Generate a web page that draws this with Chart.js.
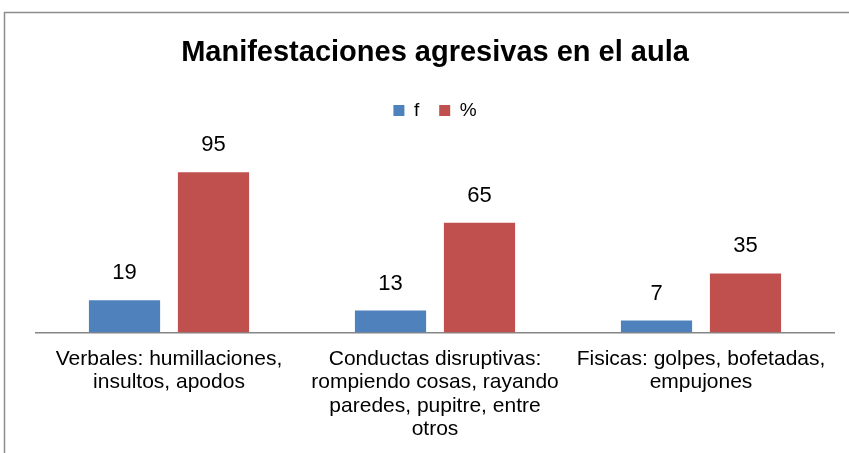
<!DOCTYPE html>
<html lang="es">
<head>
    <meta charset="UTF-8">
    <title>Manifestaciones agresivas en el aula</title>
    <script src="https://cdn.jsdelivr.net/npm/chart.js"></script>
    <style>
        html, body { margin: 0; padding: 0; background: #fff; }
        #wrap { width: 849px; height: 453px; }
    </style>
</head>
<body>
    <div id="wrap">
        <canvas id="myChart" width="849" height="453"></canvas>
    </div>

    <script>
        const categorias = [
            ['Verbales: humillaciones,', 'insultos, apodos'],
            ['Conductas disruptivas:', 'rompiendo cosas, rayando', 'paredes, pupitre, entre', 'otros'],
            ['Fisicas: golpes, bofetadas,', 'empujones']
        ];
        const frecuencia = [19, 13, 7];
        const porcentaje = [95, 65, 35];

        const FUENTE = '"Liberation Sans", Arial, sans-serif';

        // marco gris alrededor del grafico
        const marco = {
            id: 'marco',
            beforeDraw: (chart) => {
                const {ctx} = chart;
                ctx.save();
                ctx.fillStyle = '#fff';
                ctx.fillRect(0, 0, chart.width, chart.height);
                ctx.strokeStyle = '#8c8c8c';
                ctx.lineWidth = 1.5;
                ctx.strokeRect(4.5, 12.5, chart.width + 20, chart.height + 20);
                ctx.restore();
            }
        };

        // numeros encima de cada barra
        const etiquetas = {
            id: 'etiquetas',
            afterDatasetsDraw: (chart) => {
                const {ctx} = chart;
                ctx.save();
                ctx.font = '22px ' + FUENTE;
                ctx.fillStyle = '#000';
                ctx.textAlign = 'center';
                ctx.textBaseline = 'middle';
                chart.data.datasets.forEach((ds, i) => {
                    chart.getDatasetMeta(i).data.forEach((bar, j) => {
                        ctx.fillText(String(ds.data[j]), bar.x, bar.y - 27);
                    });
                });
                ctx.restore();
            }
        };

        new Chart(document.getElementById('myChart'), {
            type: 'bar',
            data: {
                labels: categorias,
                datasets: [
                    { label: 'f', data: frecuencia, backgroundColor: '#4f81bd' },
                    { label: '%', data: porcentaje, backgroundColor: '#c0504d' }
                ]
            },
            options: {
                responsive: false,
                animation: false,
                devicePixelRatio: 1,
                layout: { padding: { top: 22, left: 36, right: 15, bottom: 5 } },
                datasets: { bar: { categoryPercentage: 0.669, barPercentage: 0.8 } },
                scales: {
                    x: {
                        grid: { display: false },
                        border: { display: true, color: '#868686', width: 1.5 },
                        ticks: {
                            color: '#000',
                            padding: 7,
                            maxRotation: 0,
                            autoSkip: false,
                            font: { family: FUENTE, size: 21, lineHeight: 1.114 }
                        }
                    },
                    y: { display: false, min: 0, max: 120 }
                },
                plugins: {
                    title: {
                        display: true,
                        text: 'Manifestaciones agresivas en el aula',
                        color: '#000',
                        font: { family: FUENTE, size: 29, weight: 'bold', lineHeight: 1 },
                        padding: { top: 16.5, bottom: 13.5 }
                    },
                    legend: {
                        labels: {
                            color: '#000',
                            boxWidth: 11,
                            boxHeight: 11,
                            padding: 20,
                            font: { family: FUENTE, size: 19 }
                        }
                    },
                    tooltip: { enabled: false }
                }
            },
            plugins: [marco, etiquetas]
        });
    </script>
</body>
</html>
